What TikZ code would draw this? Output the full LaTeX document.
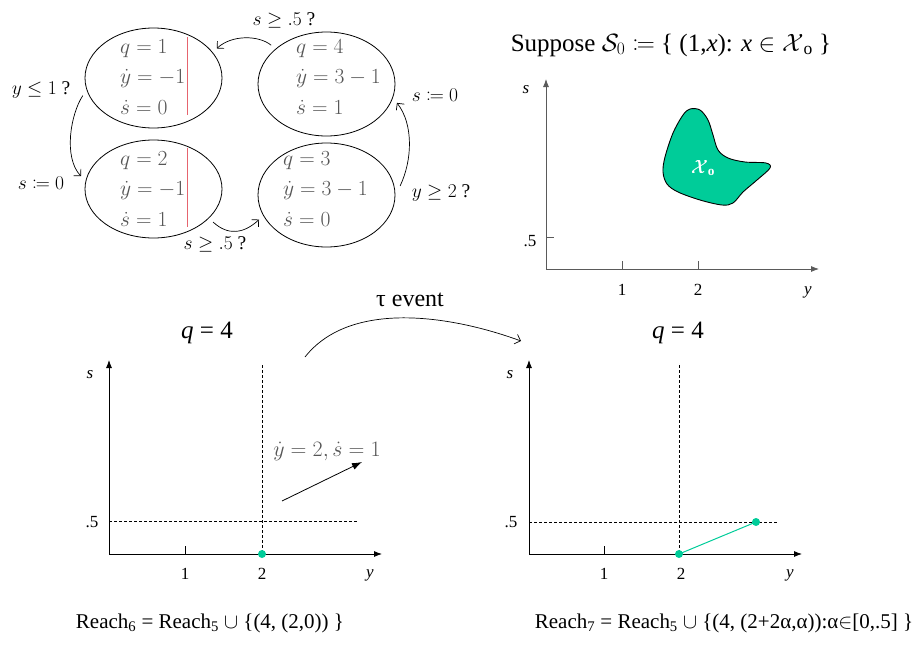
\RequirePackage{fix-cm}
\documentclass[tikz,border=0pt]{standalone}
\usepackage{fontspec}
\setmainfont{Liberation Serif}
\usetikzlibrary{shapes.geometric,arrows.meta}
\definecolor{mygreen}{RGB}{0,204,153}
\definecolor{mathgray}{RGB}{85,85,85}
\definecolor{pinkline}{RGB}{230,100,110}
\definecolor{axgray}{RGB}{90,90,90}
\newcommand\fs[1]{\fontsize{#1}{#1}\selectfont}
\newcommand\mydefeq{\mathrel{\vcenter{\hbox{$:$}}\mkern-1.2mu\mathord{=}}}
\newcommand\fakebold[1]{\rlap{#1}\kern0.5pt#1}
\begin{document}
\begin{tikzpicture}[x=1pt,y=-1pt,
 stateell/.style={ellipse,draw,line width=0.8pt,minimum width=137pt,inner sep=0pt,outer sep=6pt},
 eqtxt/.style={anchor=west,inner sep=0pt,text=mathgray,align=left,font=\fontsize{21.5}{30.5}\selectfont},
 guardlbl/.style={inner sep=1pt,font=\fs{19.5}},
 transarr/.style={line width=0.7pt,-{Straight Barb[length=5pt,width=10pt]}},
 axisarr/.style={line width=0.8pt,-{Latex[length=8pt,width=6pt]}},
 tickln/.style={line width=0.8pt},
 ticklbl/.style={inner sep=0pt,font=\fs{17}},
 guideln/.style={line width=0.6pt,dash pattern=on 3pt off 2pt},
 greendot/.style={circle,fill=mygreen,inner sep=0pt,minimum size=8pt},
 bigq/.style={inner sep=0pt,font=\fs{25}},
 reachlbl/.style={inner sep=0pt,font=\fs{21}}
]
\useasboundingbox (0,0) rectangle (923,656);

% ---------- automaton ----------
\node[stateell,minimum height=100pt] (e1) at (153.5,78) {};
\node[stateell,minimum height=104pt] (e4) at (326.5,84) {};
\node[stateell,minimum height=98pt] (e2) at (153.5,189) {};
\node[stateell,minimum height=104pt] (e3) at (326.5,195) {};

\node[eqtxt] (t1) at (120,77) {$q=1$\\$\dot y=-1$\\$\dot s=0$};
\node[eqtxt] (t4) at (296,77) {$q=4$\\$\dot y=3-1$\\$\dot s=1$};
\node[eqtxt] (t2) at (120,189) {$q=2$\\$\dot y=-1$\\$\dot s=1$};
\node[eqtxt] (t3) at (283,189) {$q=3$\\$\dot y=3-1$\\$\dot s=0$};

\coordinate (r1t) at (187,37); \coordinate (r1b) at (187,115);
\coordinate (r2t) at (187,148); \coordinate (r2b) at (187,227);
\draw[pinkline,line width=0.8pt] (r1t) -- (r1b);
\draw[pinkline,line width=0.8pt] (r2t) -- (r2b);

\draw[transarr] (e4.145) .. controls +(-12,-10) and +(15,-14) .. (e1.25);
\draw[transarr] (e1.194) .. controls +(-12,18) and +(-18,-19) .. (e2.170);
\draw[transarr] (e2.-29) .. controls +(15,14) and +(-15,14) .. (e3.200);
\draw[transarr] (e3.7.5) .. controls +(12,-25) and +(17,22) .. (e4.-15);

\node[guardlbl] (g1) at (284,20) {$s\geq .5$ ?};
\node[guardlbl] (g2) at (41,90) {$y\leq 1$ ?};
\node[guardlbl] (g3) at (41,183) {$s\mydefeq 0$};
\node[guardlbl] (g4) at (215,244) {$s\geq .5$ ?};
\node[guardlbl] (g5) at (435,95) {$s\mydefeq 0$};
\node[guardlbl] (g6) at (441,193) {$y\geq 2$ ?};

% ---------- initial set ----------
\node[inner sep=0pt,font=\fs{25}] (title) at (671,45)
  {Suppose $\mathcal{S}_0\mydefeq$ \{ (1,\textit{x}): \textit{x} $\in\mathcal{X}$\textsubscript{o} \}};
\coordinate (o0) at (546,269);
\coordinate (s0) at (546,79);
\coordinate (y0) at (819,269);
\draw[axisarr,axgray] (o0) -- (s0);
\draw[axisarr,axgray] (o0) -- (y0);
\draw[tickln,axgray] (622,261) -- (622,269);
\draw[tickln,axgray] (698,261) -- (698,269);
\draw[tickln,axgray] (546,237) -- (554,237);
\node[ticklbl] (l01) at (622,290) {1};
\node[ticklbl] (l02) at (698,290) {2};
\node[ticklbl] (l0y) at (808,292) {\textit{y}};
\node[ticklbl] (l0s) at (526,90) {\textit{s}};
\node[ticklbl] (l05) at (530,241) {.5};
\draw[fill=mygreen,line width=0.9pt] plot[smooth cycle,tension=0.55] coordinates {
 (690,109) (700,110) (708,120) (713,135) (718,150) (728,158) (745,162) (766,163)
 (770,168) (757,180) (743,192) (733,203) (722,205) (700,200) (678,192) (667,184)
 (663,172) (665,157) (673,133) (683,115)};
\node[inner sep=0pt,text=white,font=\fs{19}] (xo) at (703,168) {\fakebold{$\mathcal{X}$}\textsubscript{\textbf{o}}};

% ---------- left reach plot ----------
\node[bigq] (q4a) at (207,333) {\textit{q} = 4};
\coordinate (o1) at (109,554);
\coordinate (s1) at (109,360);
\coordinate (y1) at (382,554);
\draw[axisarr] (o1) -- (s1);
\draw[axisarr] (o1) -- (y1);
\draw[tickln] (185,546) -- (185,554);
\coordinate (d1a) at (262,365); \coordinate (d1b) at (262,554);
\coordinate (h1a) at (109,521); \coordinate (h1b) at (358,521);
\draw[guideln] (d1a) -- (d1b);
\draw[guideln] (h1a) -- (h1b);
\node[greendot] (p1) at (262,554) {};
\node[ticklbl] (l11) at (185,574) {1};
\node[ticklbl] (l12) at (262,574) {2};
\node[ticklbl] (l1y) at (370,575) {\textit{y}};
\node[ticklbl] (l1s) at (90,375) {\textit{s}};
\node[ticklbl] (l15) at (92,522) {.5};
\coordinate (v1) at (282,501);
\coordinate (v2) at (362,462);
\draw[line width=0.8pt,-{Latex[length=10pt,width=7pt]}] (v1) -- (v2);
\node[inner sep=0pt,text=mathgray,font=\fs{22}] (vel) at (327,451) {$\dot y=2,\dot s=1$};
\node[reachlbl] (reach6) at (210,623)
  {Reach\textsubscript{6} = Reach\textsubscript{5} $\cup$ \{(4, (2,0)) \}};

% ---------- tau event ----------
\coordinate (ts) at (305,357);
\coordinate (te) at (521,341);
\draw[transarr] (ts) .. controls (350,300) and (450,315) .. (te);
\node[inner sep=0pt,font=\fs{24}] (tau) at (410,300) {τ event};

% ---------- right reach plot ----------
\node[bigq] (q4b) at (678,333) {\textit{q} = 4};
\coordinate (o2) at (529,554);
\coordinate (s2) at (529,360);
\coordinate (y2) at (802,554);
\draw[axisarr] (o2) -- (s2);
\draw[axisarr] (o2) -- (y2);
\draw[tickln] (604,546) -- (604,554);
\coordinate (d2a) at (679,365); \coordinate (d2b) at (679,554);
\coordinate (h2a) at (529,522); \coordinate (h2b) at (778,522);
\draw[guideln] (d2a) -- (d2b);
\draw[guideln] (h2a) -- (h2b);
\node[greendot] (p2) at (679,554) {};
\node[greendot] (p3) at (756,522) {};
\draw[mygreen,line width=1pt] (p2.center) -- (p3.center);
\node[ticklbl] (l21) at (604,574) {1};
\node[ticklbl] (l22) at (681,574) {2};
\node[ticklbl] (l2y) at (790,575) {\textit{y}};
\node[ticklbl] (l2s) at (510,375) {\textit{s}};
\node[ticklbl] (l25) at (511,522) {.5};
\node[reachlbl] (reach7) at (724,623)
  {Reach\textsubscript{7} = Reach\textsubscript{5} $\cup$ \{(4, (2+2α,α)):α$\in$[0,.5] \}};
\end{tikzpicture}
\end{document}
